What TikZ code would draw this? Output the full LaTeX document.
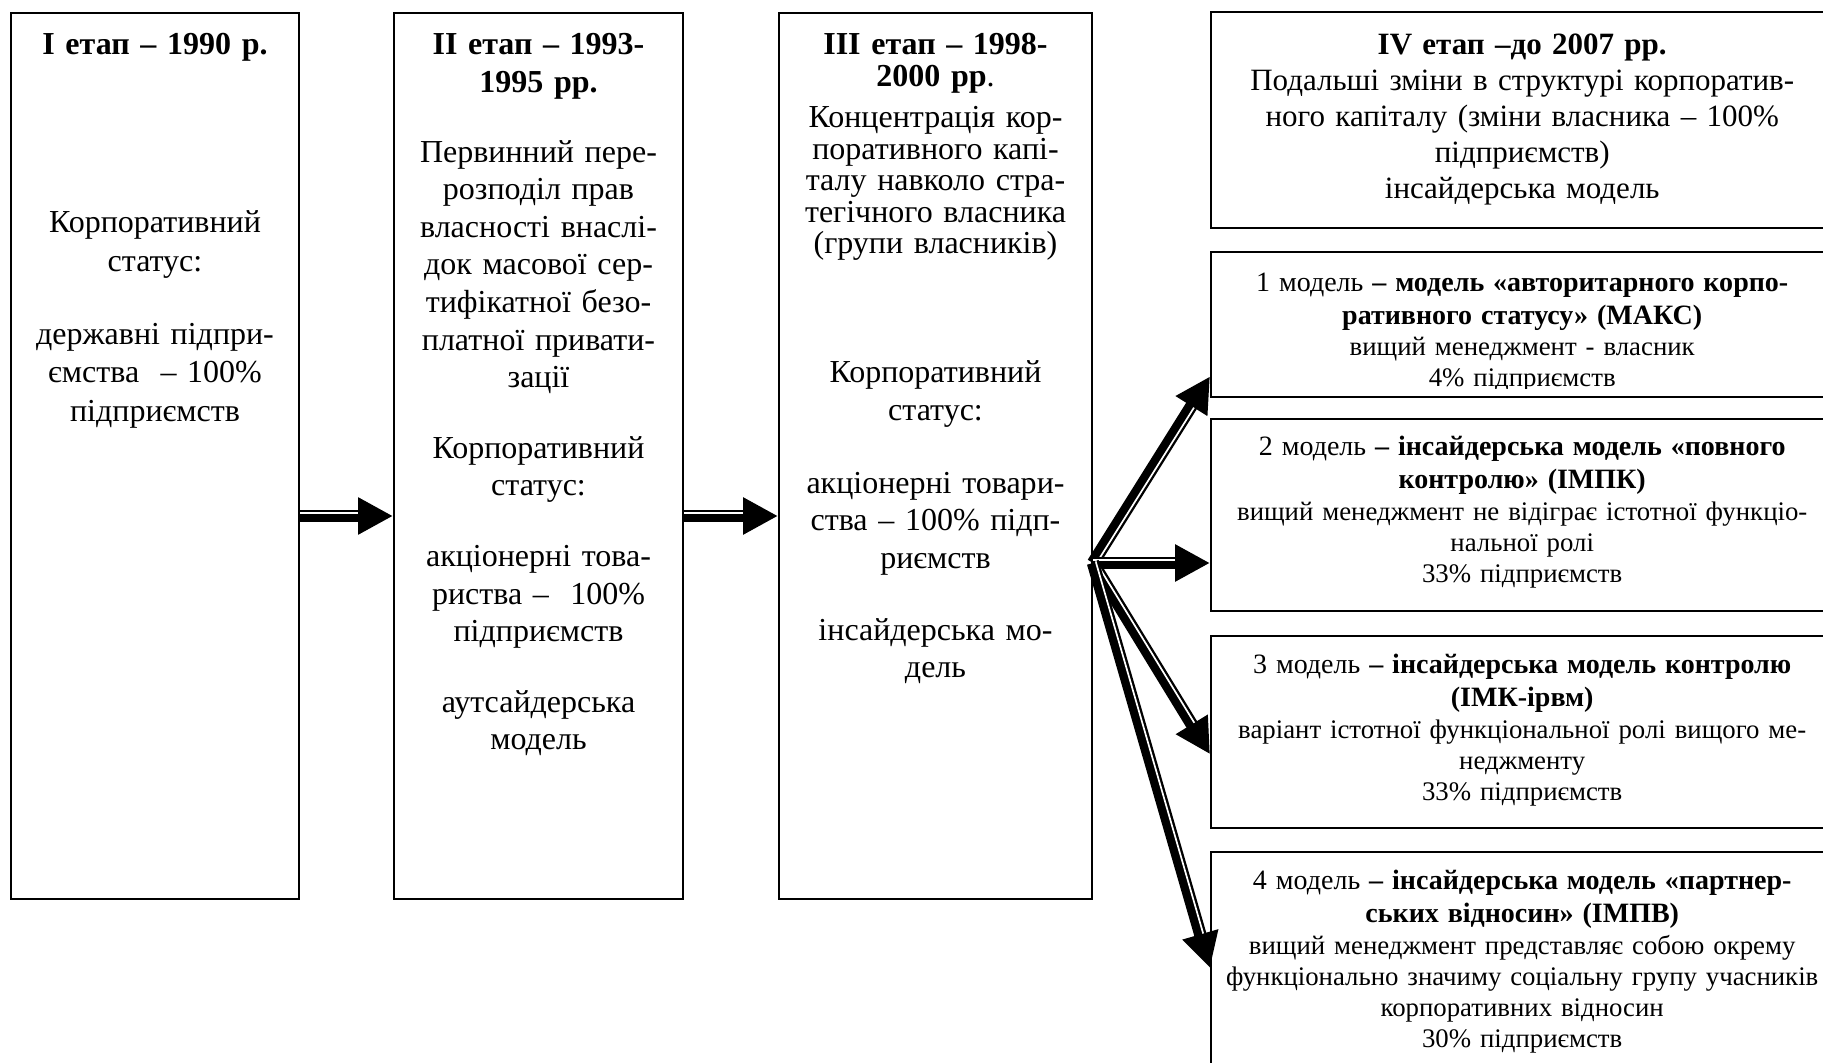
\documentclass[tikz,border=0pt]{standalone}
\usepackage{fontspec}
\setmainfont{Liberation Serif}
\usetikzlibrary{arrows.meta,calc,positioning}

\tikzset{
  stagebox/.style={draw, line width=1pt, inner sep=0pt, anchor=north west, minimum height=443pt},
  modelbox/.style={draw, line width=1.2pt, inner sep=0pt, anchor=north west, minimum width=311pt},
  stagetext/.style={align=center, inner sep=0pt, anchor=base, text width=150pt},
  modeltext/.style={align=center, inner sep=0pt, anchor=base, text width=330pt, font=\fontsize{13.4}{15.4}\selectfont},
  dblarrow/.style={line width=6.2pt, -{Triangle[length=17.5pt,width=17.5pt]}},
  stripe/.style={white, line width=0.85pt, shorten >=17.5pt},
}
\newcommand\hd[1]{{\fontsize{14}{15.4}\selectfont #1}}

\begin{document}
\begin{tikzpicture}[x=0.5pt,y=-0.5pt]
\useasboundingbox (0,0) rectangle (1823,1063);
\clip (0,0) rectangle (1823,1063);

% stages
\node[stagebox, minimum width=144pt] (s1) at (10,12) {};
\node[stagebox, minimum width=144.5pt] (s2) at (393,12) {};
\node[stagebox, minimum width=156.5pt] (s3) at (778,12) {};

\node[stagetext, font=\fontsize{16}{19.25}\selectfont] (t1) at ([yshift=-21.5pt]s1.north)
  {\textbf{I етап – 1990 р.}\\[69.75pt]
   Корпоративний\\ статус:\\[17.25pt]
   державні підпри-\\ ємства \ – 100\%\\ підприємств};

\node[stagetext, font=\fontsize{16}{18.8}\selectfont] (t2) at ([yshift=-21.5pt]s2.north)
  {\textbf{II етап – 1993-}\\ \textbf{1995 рр.}\\[16pt]
   Первинний пере-\\ розподіл прав\\ власності внаслі-\\ док масової сер-\\
   тифікатної безо-\\ платної привати-\\ зації\\[16.5pt]
   Корпоративний\\ статус:\\[16.5pt]
   акціонерні това-\\ риства – \ 100\%\\ підприємств\\[16.5pt]
   аутсайдерська\\ модель};

\node[stagetext, font=\fontsize{16}{18.75}\selectfont] (t3) at ([yshift=-21.5pt]s3.north)
  {\textbf{III етап – 1998-}\\[-2.75pt] \textbf{2000 рр}.\\[1.75pt]
   Концентрація кор-\\[-3pt] поративного капі-\\[-3pt] талу навколо стра-\\[-3pt]
   тегічного власника\\[-3pt] (групи власників)\\[45.75pt]
   Корпоративний\\ статус:\\[17.75pt]
   акціонерні товари-\\ ства – 100\% підп-\\ риємств\\[17.25pt]
   інсайдерська мо-\\ дель};

% stage IV and its models
\node[modelbox, minimum height=108pt] (s4) at (1210,11) {};
\node[modelbox, minimum height=72.5pt] (m1) at (1210,251) {};
\node[modelbox, minimum height=96pt] (m2) at (1210,418) {};
\node[modelbox, minimum height=96pt] (m3) at (1210,635) {};
\node[modelbox, minimum height=115pt] (m4) at (1210,851) {};

\node[modeltext, font=\fontsize{15.5}{18}\selectfont] (t4) at ([yshift=-22pt]s4.north)
  {\textbf{IV етап –до 2007 рр.}\\ Подальші зміни в структурі корпоратив-\\
   ного капіталу (зміни власника – 100\%\\ підприємств)\\ інсайдерська модель};

\begin{scope}
  \clip (m1.north west) rectangle ([yshift=5pt]m1.south east);
  \node[modeltext] (u1) at ([yshift=-20.5pt]m1.north)
    {\hd{1 модель \textbf{– модель «авторитарного корпо-}}\\[1pt]
     \hd{\textbf{ративного статусу» (МАКС)}}\\
     вищий менеджмент - власник\\ 4\% підприємств};
\end{scope}

\node[modeltext] (u2) at ([yshift=-18.5pt]m2.north)
  {\hd{2 модель \textbf{– інсайдерська модель «повного}}\\[1.5pt]
   \hd{\textbf{контролю» (ІМПК)}}\\[0.5pt]
   вищий менеджмент не відіграє істотної функціо-\\ нальної ролі\\ 33\% підприємств};

\node[modeltext] (u3) at ([yshift=-19pt]m3.north)
  {\hd{3 модель \textbf{– інсайдерська модель контролю}}\\[1.5pt]
   \hd{\textbf{(ІМК-ірвм)}}\\[0.5pt]
   варіант істотної функціональної ролі вищого ме-\\ неджменту\\ 33\% підприємств};

\node[modeltext] (u4) at ([yshift=-19pt]m4.north)
  {\hd{4 модель \textbf{– інсайдерська модель «партнер-}}\\[1.5pt]
   \hd{\textbf{ських відносин» (ІМПВ)}}\\[0.5pt]
   вищий менеджмент представляє собою окрему\\
   функціонально значиму соціальну групу учасників\\
   корпоративних відносин\\ 30\% підприємств};

% arrows
\coordinate (a1) at ([yshift=-30pt]s1.east);
\coordinate (a2) at (a1 -| s2.west);
\coordinate (b1) at ([yshift=-30pt]s2.east);
\coordinate (b2) at (b1 -| s3.west);
\coordinate (f0) at ([yshift=-53.5pt]s3.east);
\coordinate (f1) at ([yshift=11pt]m1.south west);
\coordinate (f2) at (f0 -| m2.west);
\coordinate (f3) at ([yshift=-11pt]m3.west);
\coordinate (f4) at ([yshift=-58.5pt]m4.north west);

\draw[dblarrow] (a1) -- (a2);
\draw[stripe] ($(a1)!1.5pt!90:(a2)$) -- ($(a2)!1.5pt!-90:(a1)$);
\draw[dblarrow] (b1) -- (b2);
\draw[stripe] ($(b1)!1.5pt!90:(b2)$) -- ($(b2)!1.5pt!-90:(b1)$);

\draw[dblarrow] (f0) -- (f1);
\draw[stripe] ($(f0)!1.5pt!-90:(f1)$) -- ($(f1)!1.5pt!90:(f0)$);
\draw[dblarrow] (f0) -- (f2);
\draw[stripe] ($(f0)!1.5pt!90:(f2)$) -- ($(f2)!1.5pt!-90:(f0)$);
\draw[dblarrow] (f0) -- (f3);
\draw[stripe] ($(f0)!1.5pt!90:(f3)$) -- ($(f3)!1.5pt!-90:(f0)$);
\draw[dblarrow] (f0) -- (f4);
\draw[stripe] ($(f0)!1.5pt!90:(f4)$) -- ($(f4)!1.5pt!-90:(f0)$);
\end{tikzpicture}
\end{document}
